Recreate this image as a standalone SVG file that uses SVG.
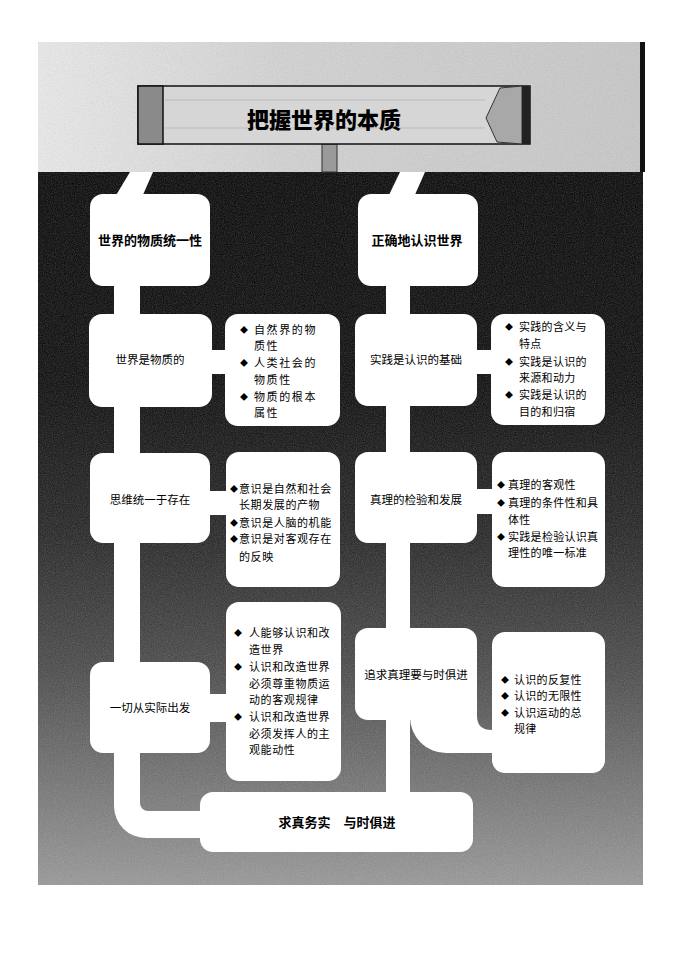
<svg xmlns="http://www.w3.org/2000/svg" width="687" height="971" viewBox="0 0 687 971">
  <defs>
    <linearGradient id="darkGrad" x1="0" y1="172" x2="0" y2="885" gradientUnits="userSpaceOnUse">
      <stop offset="0" stop-color="#000"/>
      <stop offset="0.3" stop-color="#060606"/>
      <stop offset="0.5" stop-color="#1e1e1e"/>
      <stop offset="0.7" stop-color="#464646"/>
      <stop offset="0.88" stop-color="#777"/>
      <stop offset="1" stop-color="#979797"/>
    </linearGradient>
    <linearGradient id="topGrad" x1="0" y1="0" x2="1" y2="0">
      <stop offset="0" stop-color="#ececec"/>
      <stop offset="0.4" stop-color="#d4d4d4"/>
      <stop offset="1" stop-color="#c8c8c8"/>
    </linearGradient>
    <filter id="noise" x="0" y="0" width="100%" height="100%">
      <feTurbulence type="fractalNoise" baseFrequency="0.9" numOctaves="2" seed="3"/>
      <feColorMatrix type="saturate" values="0"/>
    </filter>
    <clipPath id="pageClip"><rect x="38" y="42" width="605" height="843"/></clipPath>
  </defs>
  <style>
    .box { fill: #fff; }
    .wire { fill: #fff; }
    .title { font-family: "Noto Sans CJK SC", "Noto Sans", sans-serif; font-weight: 900; font-size: 22px; fill: #000; }
    .head { font-family: "Noto Sans CJK SC", "Noto Sans", sans-serif; font-weight: 700; font-size: 13px; fill: #000; text-anchor: middle; }
    .lbl { font-family: "Noto Sans CJK SC", "Noto Sans", sans-serif; font-size: 11.5px; fill: #000; text-anchor: middle; }
    .bul { font-family: "Noto Sans CJK SC", "Noto Sans", sans-serif; font-size: 11px; fill: #000; }
    .dia { font-size: 8px; }
  </style>

  <!-- background -->
  <rect width="687" height="971" fill="#fff"/>
  <rect x="38" y="42" width="605" height="130" fill="url(#topGrad)"/>
  <rect x="38" y="172" width="605" height="713" fill="url(#darkGrad)"/>
  <g clip-path="url(#pageClip)">
    <rect x="38" y="42" width="605" height="843" filter="url(#noise)" opacity="0.3"/>
  </g>
  <rect x="640" y="42" width="5" height="130" fill="#111"/>

  <!-- title sign -->
  <g id="title-sign">
    <rect x="322" y="144" width="15" height="28" fill="#9a9a9a" stroke="#333" stroke-width="1"/>
    <rect x="138" y="86" width="392" height="58" fill="#d6d6d6" stroke="#111" stroke-width="1.5"/>
    <line x1="165" y1="100" x2="485" y2="100" stroke="#bbb" stroke-width="1"/>
    <line x1="165" y1="128" x2="485" y2="128" stroke="#bbb" stroke-width="1"/>
    <rect x="138" y="86" width="25" height="58" fill="#8a8a8a" stroke="#111" stroke-width="1.5"/>
    <polygon points="486,118 500,88 522,86 522,144 497,142" fill="#a8a8a8" stroke="#333" stroke-width="1"/>
    <rect x="522" y="86" width="8" height="58" fill="#222"/>
    <text class="title" x="324" y="128" text-anchor="middle">把握世界的本质</text>
  </g>

  <!-- connectors -->
  <g id="connectors">
    <polygon class="wire" points="130,172 153,172 142,197 115,197"/>
    <polygon class="wire" points="400,172 425,172 414,197 388,197"/>
    <rect class="wire" x="114" y="280" width="26" height="490"/>
    <path class="wire" d="M114,760 L114,806 A32,32 0 0 0 146,838 L210,838 L210,811 L148,811 A8,8 0 0 1 140,803 L140,760 Z"/>
    <rect class="wire" x="386" y="280" width="24" height="518"/>
    <rect class="wire" x="205" y="350" width="25" height="24"/>
    <rect class="wire" x="472" y="350" width="24" height="24"/>
    <rect class="wire" x="205" y="491" width="26" height="24"/>
    <rect class="wire" x="472" y="489" width="25" height="25"/>
    <rect class="wire" x="205" y="694" width="26" height="28"/>
    <path class="wire" d="M405,700 L477,700 L477,716 Q477,730 492,730 L496,730 L496,753 L446,753 A36,36 0 0 1 410,717 L410,700 Z"/>
  </g>

  <!-- left column -->
  <g id="n-world-unity">
    <rect class="box" x="90" y="194" width="120" height="92" rx="13"/>
    <text class="head" x="150" y="245">世界的物质统一性</text>
  </g>
  <g id="n-world-material">
    <rect class="box" x="89" y="314" width="123" height="93" rx="13"/>
    <text class="lbl" x="150" y="364">世界是物质的</text>
  </g>
  <g id="b-world-material">
    <rect class="box" x="225" y="314" width="115" height="112" rx="13"/>
    <text class="bul" letter-spacing="1.6">
      <tspan class="dia" x="240" y="333">◆</tspan><tspan x="254" y="334">自然界的物</tspan>
      <tspan x="254" y="350">质性</tspan>
      <tspan class="dia" x="240" y="366">◆</tspan><tspan x="254" y="367">人类社会的</tspan>
      <tspan x="254" y="384">物质性</tspan>
      <tspan class="dia" x="240" y="400">◆</tspan><tspan x="254" y="401">物质的根本</tspan>
      <tspan x="254" y="417">属性</tspan>
    </text>
  </g>
  <g id="n-thought-being">
    <rect class="box" x="90" y="453" width="120" height="90" rx="13"/>
    <text class="lbl" x="150" y="504">思维统一于存在</text>
  </g>
  <g id="b-thought-being">
    <rect class="box" x="226" y="452" width="114" height="135" rx="13"/>
    <text class="bul" letter-spacing="0.6">
      <tspan class="dia" x="230" y="492">◆</tspan><tspan x="239" y="493">意识是自然和社会</tspan>
      <tspan x="239" y="509">长期发展的产物</tspan>
      <tspan class="dia" x="230" y="526">◆</tspan><tspan x="239" y="527">意识是人脑的机能</tspan>
      <tspan class="dia" x="230" y="542">◆</tspan><tspan x="239" y="543">意识是对客观存在</tspan>
      <tspan x="239" y="561">的反映</tspan>
    </text>
  </g>
  <g id="n-from-reality">
    <rect class="box" x="90" y="662" width="120" height="91" rx="13"/>
    <text class="lbl" x="150" y="712">一切从实际出发</text>
  </g>
  <g id="b-from-reality">
    <rect class="box" x="226" y="602" width="115" height="179" rx="13"/>
    <text class="bul" letter-spacing="0.6">
      <tspan class="dia" x="234" y="636">◆</tspan><tspan x="249" y="637">人能够认识和改</tspan>
      <tspan x="249" y="654">造世界</tspan>
      <tspan class="dia" x="234" y="670">◆</tspan><tspan x="249" y="671">认识和改造世界</tspan>
      <tspan x="249" y="688">必须尊重物质运</tspan>
      <tspan x="249" y="704">动的客观规律</tspan>
      <tspan class="dia" x="234" y="720">◆</tspan><tspan x="249" y="721">认识和改造世界</tspan>
      <tspan x="249" y="738">必须发挥人的主</tspan>
      <tspan x="249" y="754">观能动性</tspan>
    </text>
  </g>

  <!-- right column -->
  <g id="n-know-world">
    <rect class="box" x="358" y="194" width="120" height="92" rx="13"/>
    <text class="head" x="417" y="245">正确地认识世界</text>
  </g>
  <g id="n-practice-basis">
    <rect class="box" x="355" y="314" width="122" height="92" rx="13"/>
    <text class="lbl" x="416" y="364">实践是认识的基础</text>
  </g>
  <g id="b-practice-basis">
    <rect class="box" x="491" y="314" width="114" height="111" rx="13"/>
    <text class="bul" letter-spacing="0.3">
      <tspan class="dia" x="505" y="330">◆</tspan><tspan x="519" y="331">实践的含义与</tspan>
      <tspan x="519" y="348">特点</tspan>
      <tspan class="dia" x="505" y="365">◆</tspan><tspan x="519" y="366">实践是认识的</tspan>
      <tspan x="519" y="382">来源和动力</tspan>
      <tspan class="dia" x="505" y="398">◆</tspan><tspan x="519" y="399">实践是认识的</tspan>
      <tspan x="519" y="416">目的和归宿</tspan>
    </text>
  </g>
  <g id="n-truth-test">
    <rect class="box" x="355" y="452" width="122" height="91" rx="13"/>
    <text class="lbl" x="416" y="504">真理的检验和发展</text>
  </g>
  <g id="b-truth-test">
    <rect class="box" x="492" y="452" width="113" height="135" rx="13"/>
    <text class="bul" letter-spacing="0.3">
      <tspan class="dia" x="497" y="488">◆</tspan><tspan x="508" y="489">真理的客观性</tspan>
      <tspan class="dia" x="497" y="506">◆</tspan><tspan x="508" y="507">真理的条件性和具</tspan>
      <tspan x="508" y="524">体性</tspan>
      <tspan class="dia" x="497" y="540">◆</tspan><tspan x="508" y="541">实践是检验认识真</tspan>
      <tspan x="508" y="557">理性的唯一标准</tspan>
    </text>
  </g>
  <g id="n-truth-times">
    <rect class="box" x="355" y="628" width="122" height="92" rx="13"/>
    <text class="lbl" x="416" y="679">追求真理要与时俱进</text>
  </g>
  <g id="b-truth-times">
    <rect class="box" x="492" y="632" width="113" height="141" rx="13"/>
    <text class="bul" letter-spacing="0.3">
      <tspan class="dia" x="501" y="683">◆</tspan><tspan x="514" y="684">认识的反复性</tspan>
      <tspan class="dia" x="501" y="699">◆</tspan><tspan x="514" y="700">认识的无限性</tspan>
      <tspan class="dia" x="501" y="716">◆</tspan><tspan x="514" y="717">认识运动的总</tspan>
      <tspan x="514" y="733">规律</tspan>
    </text>
  </g>

  <!-- bottom -->
  <g id="n-conclusion">
    <rect class="box" x="200" y="792" width="273" height="60" rx="13"/>
    <text class="head" x="337" y="827">求真务实　与时俱进</text>
  </g>
</svg>
